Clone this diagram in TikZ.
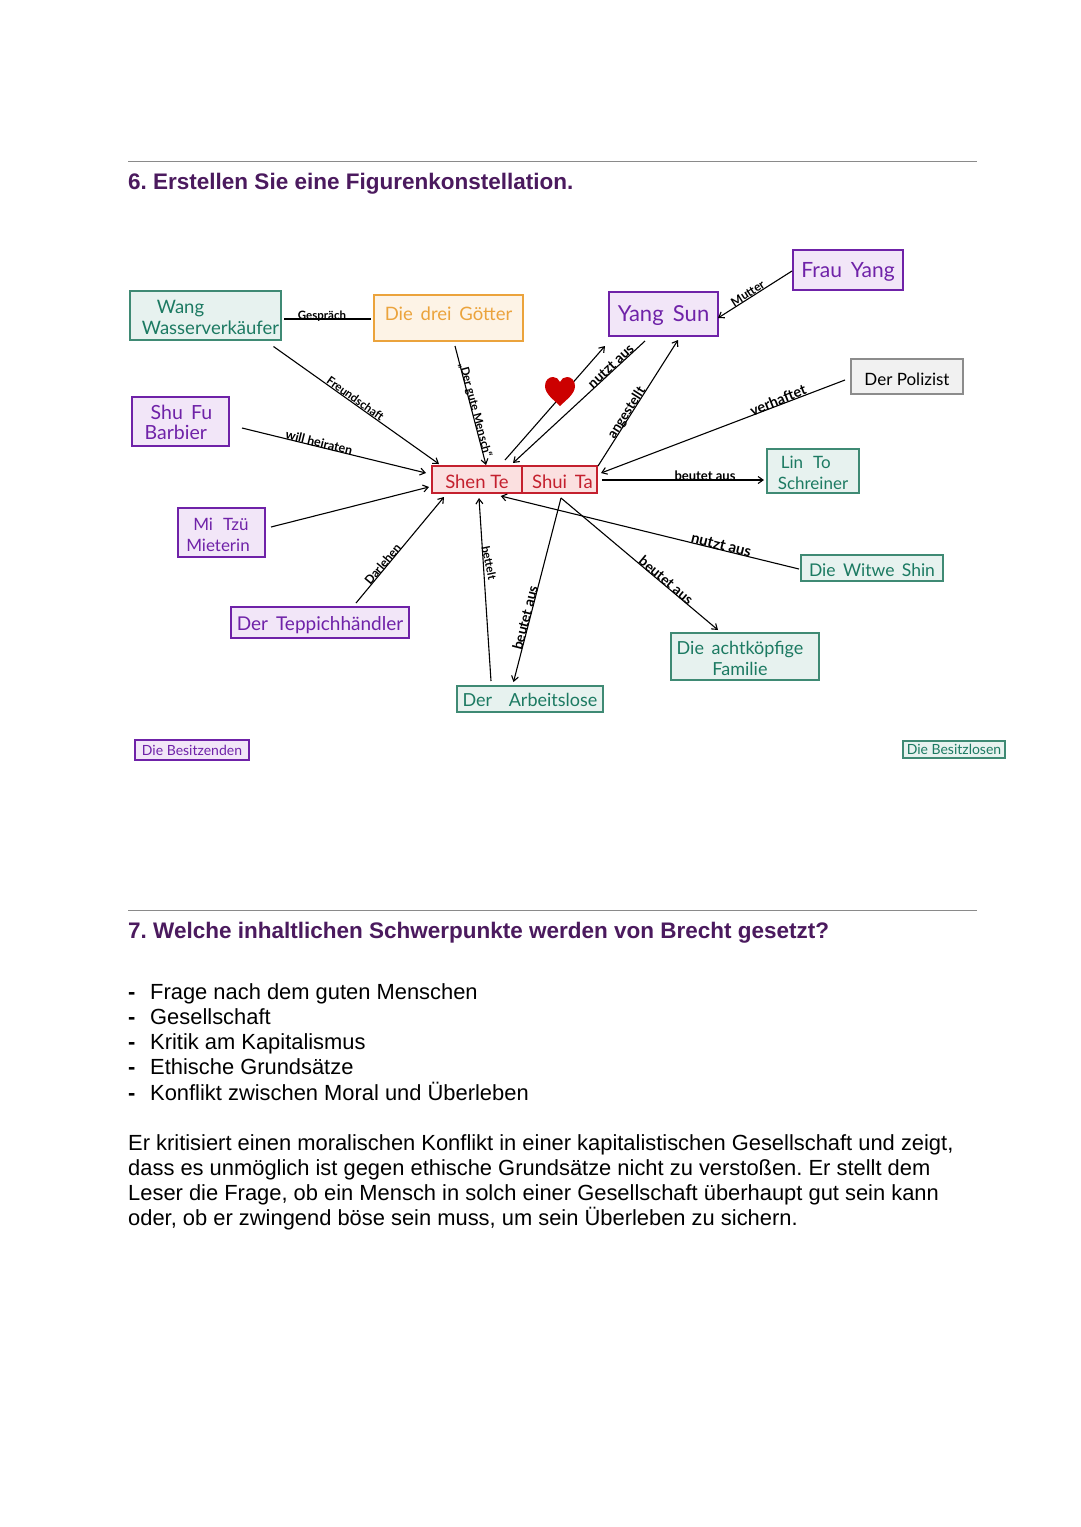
\documentclass[tikz,border=0pt]{standalone}
\usepackage{fontspec}
\usetikzlibrary{arrows.meta}
\setmainfont{Liberation Sans}
\newfontfamily\hand{Lato}
\newcommand{\vm}[2]{\raisebox{#1}[\height][\depth]{#2}}
\definecolor{headc}{HTML}{4B1A5E}
\definecolor{rulec}{HTML}{8A8A8A}
\definecolor{purp}{HTML}{6F22A8}
\definecolor{purpf}{HTML}{F2E6F8}
\definecolor{grn}{HTML}{1C7A62}
\definecolor{grnb}{HTML}{3F8A74}
\definecolor{grnf}{HTML}{E7F2EF}
\definecolor{oran}{HTML}{EBA33C}
\definecolor{oranf}{HTML}{FDF3E6}
\definecolor{redc}{HTML}{C4202E}
\definecolor{redf}{HTML}{FBE0E0}
\definecolor{grayb}{HTML}{8C8C8C}
\definecolor{grayf}{HTML}{F1F1F1}
\tikzset{
  x=1pt,y=-1pt,
  box/.style={draw,line width=1.4pt,inner sep=0pt,align=left},
  hand/.style={font=\hand\fontsize{#1}{21}\selectfont},
  pbox/.style={box,draw=purp,fill=purpf,text=purp},
  gbox/.style={box,draw=grnb,fill=grnf,text=grn},
  obox/.style={box,draw=oran,fill=oranf,text=oran},
  rbox/.style={box,draw=redc,fill=redf,text=redc},
  kbox/.style={box,draw=grayb,fill=grayf,text=black},
  conn/.style={line width=1.1pt,black},
  arr/.style={conn,-{Straight Barb[length=5pt,width=7pt]}},
  lab/.style={font=\hand\fontsize{#1}{12}\selectfont\bfseries,inner sep=0pt,text=black,anchor=base},
  heading/.style={anchor=base west,inner sep=0pt,text=headc,font=\fontsize{22.5}{26}\selectfont\bfseries\frenchspacing},
  body/.style={anchor=north west,inner sep=0pt,align=left,font=\fontsize{21.9}{25.3}\selectfont\frenchspacing},
  sep/.style={draw=rulec,line width=0.8pt},
}
\begin{document}
\begin{tikzpicture}
\useasboundingbox (0,0) rectangle (1080,1527);
\fill[white] (0,0) rectangle (1080,1527);
\coordinate (r1a) at (128,161); \coordinate (r1b) at (977,161);
\coordinate (r2a) at (128,910); \coordinate (r2b) at (977,910);
\draw[sep] (r1a) -- (r1b);
\draw[sep] (r2a) -- (r2b);
\node[heading] (h6) at (128,189) {6. Erstellen Sie eine Figurenkonstellation.};
\node[heading] (h7) at (128,938) {7. Welche inhaltlichen Schwerpunkte werden von Brecht gesetzt?};
\node[body] (list) at (128,983) {%
\makebox[22pt][l]{\textbf{-}}Frage nach dem guten Menschen\\
\makebox[22pt][l]{\textbf{-}}Gesellschaft\\
\makebox[22pt][l]{\textbf{-}}Kritik am Kapitalismus\\
\makebox[22pt][l]{\textbf{-}}Ethische Grundsätze\\
\makebox[22pt][l]{\textbf{-}}Konflikt zwischen Moral und Überleben};
\node[body] (para) at (128,1134) {%
Er kritisiert einen moralischen Konflikt in einer kapitalistischen Gesellschaft und zeigt,\\
dass es unmöglich ist gegen ethische Grundsätze nicht zu verstoßen. Er stellt dem\\
Leser die Frage, ob ein Mensch in solch einer Gesellschaft überhaupt gut sein kann\\
oder, ob er zwingend böse sein muss, um sein Überleben zu sichern.};

% boxes
\node[gbox,minimum width=151pt,minimum height=49pt,hand=18.5] (wang) at (205.5,315.5) {\vm{-2pt}{\hspace*{25pt}Wang}\\\vm{-2pt}{\hspace*{10pt}Wasserverkäufer}};
\node[obox,minimum width=149pt,minimum height=46pt,hand=18.5] (goetter) at (448.5,318) {\vm{4pt}{Die \,drei \,Götter}};
\node[pbox,minimum width=97pt,minimum height=49pt,hand=19.5] (shufu) at (180.5,421.5) {\vm{-1pt}{\hspace*{6pt}Shu \,Fu\hspace*{4pt}}\\Barbier};
\node[rbox,minimum width=90pt,minimum height=27pt,hand=18.5] (shente) at (477,479.5) {\vm{-2pt}{Shen Te}};
\node[rbox,minimum width=75pt,minimum height=27pt,hand=18.5] (shuita) at (559.5,479.5) {\vm{-2pt}{\hspace*{6pt}Shui \,Ta}};
\node[pbox,minimum width=109pt,minimum height=44pt,hand=22] (yangsun) at (663.5,314) {\vm{-2pt}{Yang \,Sun}};
\node[pbox,minimum width=110pt,minimum height=40pt,hand=21] (frauyang) at (848,270) {\vm{-2pt}{Frau \,Yang}};
\node[kbox,minimum width=112pt,minimum height=35pt,hand=17] (polizist) at (907,376.5) {\vm{-3pt}{Der Polizist}};
\node[gbox,minimum width=92pt,minimum height=44pt,hand=17] (linto) at (813,471) {\vm{-2pt}{\hspace*{3pt}Lin \,\,To}\\\vm{-2pt}{Schreiner}};
\node[pbox,minimum width=87pt,minimum height=49pt,hand=17] (mitzu) at (221.5,532.5) {\vm{-2pt}{\hspace*{7pt}Mi \,\,Tzü}\\\vm{-2pt}{Mieterin\hspace*{7pt}}};
\node[pbox,minimum width=178pt,minimum height=31pt,hand=19] (teppich) at (320,622.5) {\vm{-3pt}{Der \,Teppichhändler}};
\node[gbox,minimum width=142pt,minimum height=26pt,hand=17.5] (witwe) at (872,568) {\vm{-2pt}{Die \,Witwe \,Shin}};
\node[gbox,minimum width=148pt,minimum height=47pt,hand=18,align=center] (familie) at (745,656.5) {\vm{-2pt}{Die \,achtköpfige\hspace*{10pt}}\\\vm{-2pt}{Familie\hspace*{10pt}}};
\node[gbox,minimum width=146pt,minimum height=26pt,hand=18] (arbeitslose) at (530,699) {\vm{-1pt}{Der \,\,\,\,Arbeitslose}};
\node[pbox,minimum width=114pt,minimum height=20pt,hand=14] (besitzende) at (192,750) {Die Besitzenden};
\node[gbox,minimum width=102pt,minimum height=17pt,hand=14] (besitzlose) at (954,749.5) {Die Besitzlosen};

% connectors
\draw[conn] ([shift={(78.5,3.5)}]wang.center) -- ([shift={(-77.5,1)}]goetter.center);
\draw[arr] ([shift={(68,31)}]wang.center) -- ([shift={(-38,-15.5)}]shente.center);
\draw[arr] ([shift={(61.5,6.5)}]shufu.center) -- ([shift={(-51,-6.5)}]shente.center);
\draw[arr] ([shift={(6.5,28)}]goetter.center) -- ([shift={(9,-14.5)}]shente.center);
\draw[arr] ([shift={(49.5,-5.5)}]mitzu.center) -- ([shift={(-48,7.5)}]shente.center);
\draw[arr] ([shift={(36,-19.5)}]teppich.center) -- ([shift={(-33,17.5)}]shente.center);
\draw[arr] ([shift={(-39,-18)}]arbeitslose.center) -- ([shift={(2,18.5)}]shente.center);
\draw[arr] ([shift={(1.5,18.5)}]shuita.center) -- ([shift={(-16.5,-17)}]arbeitslose.center);
\draw[arr] ([shift={(1.5,18.5)}]shuita.center) -- ([shift={(-27,-26.5)}]familie.center);
\draw[arr] ([shift={(-73,1)}]witwe.center) -- ([shift={(23.7,16.5)}]shente.center);
\draw[arr] ([shift={(42.5,0.5)}]shuita.center) -- ([shift={(-49,9)}]linto.center);
\draw[arr] ([shift={(-62,3.5)}]polizist.center) -- ([shift={(41.5,-6.5)}]shuita.center);
\draw[arr] ([shift={(38.5,-13.5)}]shuita.center) -- ([shift={(14.5,26)}]yangsun.center);
\draw[arr] ([shift={(-18.5,27)}]yangsun.center) -- ([shift={(36,-16.5)}]shente.center);
\draw[arr] ([shift={(28,-19.5)}]shente.center) -- ([shift={(-58.5,32)}]yangsun.center);
\draw[arr] ([shift={(-56,1)}]frauyang.center) -- ([shift={(54.5,4)}]yangsun.center);

% heart
\coordinate (heart) at (560,391);
\fill[red!80!black,shift={(heart)}] (0,15)
  .. controls (-6,9) and (-15,3) .. (-15,-5)
  .. controls (-15,-11) and (-11,-14) .. (-7,-14)
  .. controls (-4,-14) and (-1,-12) .. (0,-9)
  .. controls (1,-12) and (4,-14) .. (7,-14)
  .. controls (11,-14) and (15,-11) .. (15,-5)
  .. controls (15,3) and (6,9) .. (0,15) -- cycle;

% labels
\node[lab=11.5] (l1) at (322,319) {Gespräch};
\node[lab=11.5,rotate=-35.5] (l2) at (353,402) {Freundschaft};
\node[lab=12.5,rotate=-14] (l3) at (318,447) {will heiraten};
\node[lab=11.5,rotate=-75] (l4) at (472,411) {„Der gute Mensch“};
\node[lab=14,rotate=43] (l5) at (614,369.6) {nutzt aus};
\node[lab=13.5,rotate=57.6] (l6) at (630,415) {angestellt};
\node[lab=14.5,rotate=22] (l7) at (780,405) {verhaftet};
\node[lab=12,rotate=32.5] (l8) at (750,297) {Mutter};
\node[lab=13] (l9) at (705,480) {beutet aus};
\node[lab=15,rotate=-14] (l10) at (720,550) {nutzt aus};
\node[lab=14,rotate=-40] (l11) at (663,584) {beutet aus};
\node[lab=14,rotate=75.5] (l12) at (530,619) {beutet aus};
\node[lab=11.5,rotate=-78] (l13) at (485,564) {bettelt};
\node[lab=12,rotate=50] (l14) at (386,567) {Darlehen};
\end{tikzpicture}
\end{document}
